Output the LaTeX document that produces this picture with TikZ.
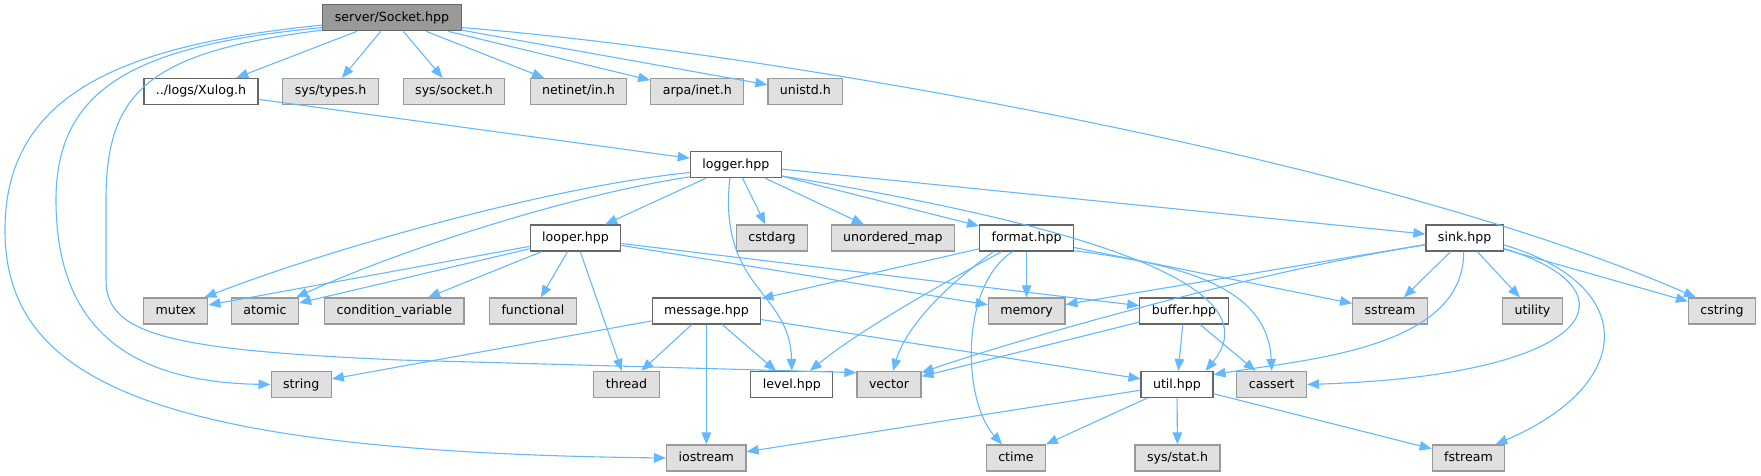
\documentclass[tikz,border=0pt]{standalone}
\usepackage{fontspec}
\setmainfont{DejaVu Sans}
\usetikzlibrary{arrows.meta}
\definecolor{edgeblue}{RGB}{99,184,255}
\definecolor{boxgray}{RGB}{224,224,224}
\definecolor{boxline}{RGB}{153,153,153}
\definecolor{darkline}{RGB}{102,102,102}
\definecolor{rootgray}{RGB}{153,153,153}

\begin{document}
\begin{tikzpicture}[x=1pt,y=-1pt,
  every node/.style={font=\fontsize{12.6}{15}\selectfont,minimum height=26pt,inner xsep=12pt,inner ysep=0pt,text height=9.6pt,text depth=2.6pt,line width=1.2pt},
  hfile/.style={draw=darkline,fill=white},
  sysfile/.style={draw=boxline,fill=boxgray},
  rootfile/.style={draw=darkline,fill=rootgray},
  dep/.style={draw=edgeblue,line width=1.1pt,-{Triangle[length=12pt,width=9.5pt]}}]
  \useasboundingbox (0,0) rectangle (1761,476);

  \node[rootfile] (socket) at (392,17.8) {server/Socket.hpp};

  \node[hfile] (xulog) at (201,91.5) {../logs/Xulog.h};
  \node[sysfile] (systypes) at (330.6,91.5) {sys/types.h};
  \node[sysfile] (syssocket) at (454,91.5) {sys/socket.h};
  \node[sysfile] (netinet) at (578.5,91.5) {netinet/in.h};
  \node[sysfile] (arpainet) at (697.3,91.5) {arpa/inet.h};
  \node[sysfile] (unistd) at (805.4,91.5) {unistd.h};

  \node[hfile] (logger) at (735.8,164.5) {logger.hpp};

  \node[hfile] (looper) at (575.5,238) {looper.hpp};
  \node[sysfile] (cstdarg) at (772,238) {cstdarg};
  \node[sysfile] (umap) at (892.9,238) {unordered\_map};
  \node[hfile] (format) at (1026.6,238) {format.hpp};
  \node[hfile] (sink) at (1464.6,238) {sink.hpp};

  \node[sysfile] (mutex) at (175.7,311) {mutex};
  \node[sysfile] (atomic) at (265,311) {atomic};
  \node[sysfile] (condvar) at (394.4,311) {condition\_variable};
  \node[sysfile] (functional) at (532.9,311) {functional};
  \node[hfile] (message) at (706.5,311) {message.hpp};
  \node[sysfile] (memory) at (1026.6,311) {memory};
  \node[hfile] (buffer) at (1184,311) {buffer.hpp};
  \node[sysfile] (sstream) at (1390,311) {sstream};
  \node[sysfile] (utility) at (1532.5,311) {utility};
  \node[sysfile] (cstring) at (1722,311) {cstring};

  \node[sysfile] (string) at (301.2,384.5) {string};
  \node[sysfile] (thread) at (626.5,384.5) {thread};
  \node[hfile] (level) at (791.8,384.5) {level.hpp};
  \node[sysfile] (vector) at (889,384.5) {vector};
  \node[hfile] (util) at (1177,384.5) {util.hpp};
  \node[sysfile] (cassert) at (1271.7,384.5) {cassert};

  \node[sysfile] (iostream) at (706.3,458) {iostream};
  \node[sysfile] (ctime) at (1016,458) {ctime};
  \node[sysfile] (sysstat) at (1177.5,458) {sys/stat.h};
  \node[sysfile] (fstream) at (1468.5,458) {fstream};

  \foreach \a/\b in {socket/xulog,socket/systypes,socket/syssocket,socket/netinet,socket/arpainet,socket/unistd,
    xulog/logger,logger/looper,logger/cstdarg,logger/umap,logger/format,logger/sink,
    looper/mutex,looper/atomic,looper/condvar,looper/functional,looper/thread,looper/memory,looper/buffer,
    format/message,format/memory,format/sstream,sink/memory,sink/sstream,sink/utility,sink/cstring,
    message/string,message/thread,message/level,message/iostream,message/util,
    buffer/util,buffer/cassert,buffer/vector,util/iostream,util/ctime,util/sysstat,util/fstream}
    {\draw[dep] (\a) -- (\b);}

  \draw[dep] (socket.-8) .. controls (750,50) and (1370,155) .. ([xshift=8pt]cstring.north west);
  \draw[dep] (logger.190) .. controls (560,185) and (340,245) .. ([xshift=-4pt]mutex.north east);
  \draw[dep] (logger.195) .. controls (570,195) and (400,250) .. ([xshift=-3pt]atomic.north east);
  \draw[dep] ([xshift=-25pt]format.south) .. controls (940,285) and (860,330) .. ([xshift=18pt]level.north);
  \draw[dep] ([xshift=-33pt]format.south) .. controls (940,290) and (905,330) .. ([xshift=4pt]vector.north);
  \draw[dep] (sink.190) .. controls (1250,272) and (1000,345) .. (vector.20);

  \draw[dep] (socket.186) .. controls (120,45) and (5,95) .. (5,230) .. controls (5,380) and (150,452) .. (iostream.west);
  \draw[dep] (socket.188) .. controls (140,45) and (56,85) .. (56,200) .. controls (56,320) and (120,382) .. (string.west);
  \draw[dep] (socket.190) .. controls (150,52) and (106,90) .. (106,200) -- (106,280) .. controls (106,335) and (170,350) .. (400,360) -- (vector.160);
  \draw[dep] ([xshift=-6pt]logger.south) .. controls (718,290) and (790,290) .. (level.north);
  \draw[dep] (logger.-14) .. controls (1050,220) and (1280,280) .. ([xshift=-8pt]util.north east);
  \draw[dep] ([xshift=-14pt]format.south) .. controls (960,285) and (962,400) .. ([xshift=-14pt]ctime.north);
  \draw[dep] (format.-15) .. controls (1190,265) and (1268,290) .. (cassert.north);
  \draw[dep] ([xshift=-1pt]sink.south) .. controls (1465,350) and (1300,360) .. (util.15);
  \draw[dep] (sink.-15) .. controls (1640,290) and (1600,375) .. (cassert.east);
  \draw[dep] (sink.-10) .. controls (1640,285) and (1635,385) .. ([xshift=-10pt]fstream.north east);
\end{tikzpicture}
\end{document}
